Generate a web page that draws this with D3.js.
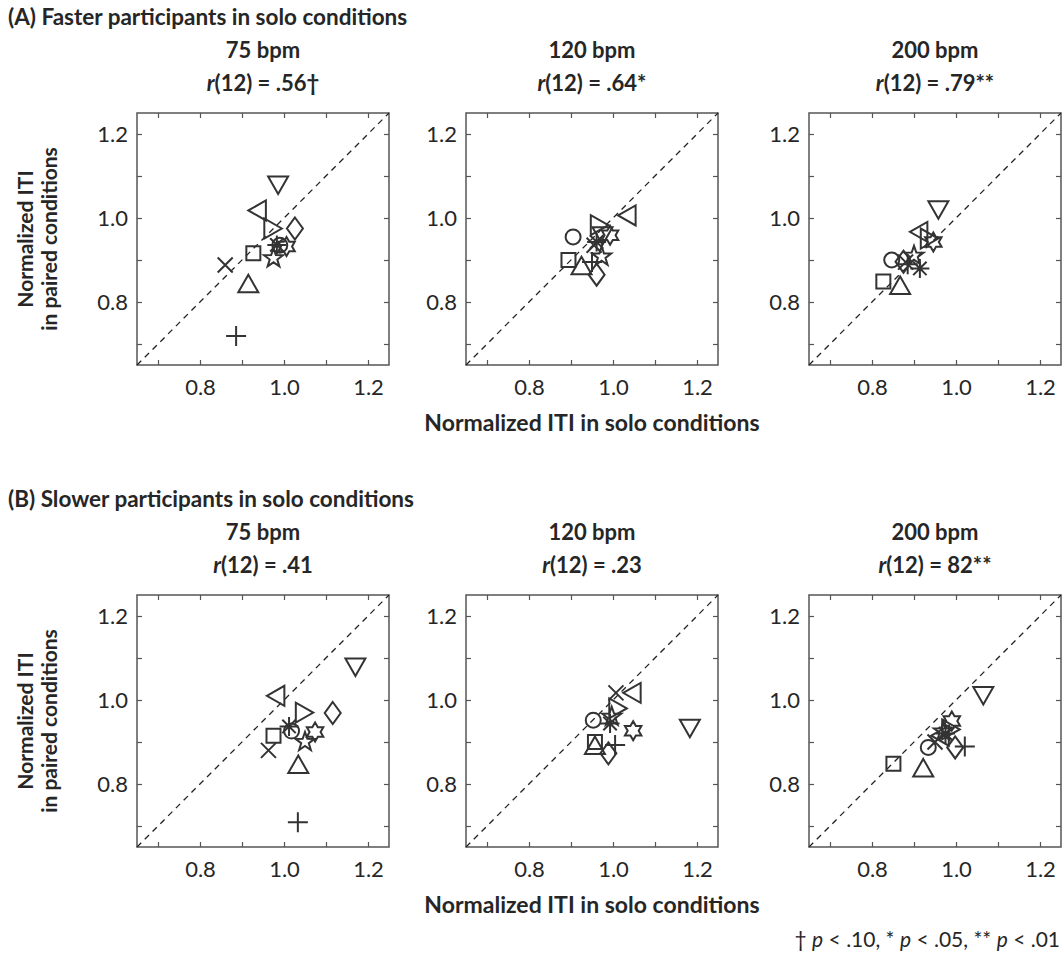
<!DOCTYPE html>
<html>
<head>
<meta charset="utf-8">
<script src="https://cdn.jsdelivr.net/npm/d3@7"></script>
<style>
  body { margin: 0; background: #fff; }
  text { font-family: Lato, "Open Sans", sans-serif; fill: #262626; }
</style>
</head>
<body>
<script>
// marker symbols, one per participant
const markers = ['o', '+', '*', 'x', 's', 'd', '^', 'v', '>', '<', 'p', 'h'];

// x = normalized ITI solo, y = normalized ITI paired
const fastSolo75  = [0.990, 0.886, 0.983, 0.860, 0.927, 1.026, 0.915, 0.986, 0.971, 0.939, 0.975, 1.006];
const fastPair75  = [0.935, 0.719, 0.936, 0.888, 0.916, 0.975, 0.841, 1.081, 0.975, 1.018, 0.904, 0.932];
const fastSolo120 = [0.905, 0.950, 0.961, 0.955, 0.894, 0.961, 0.925, 0.975, 0.965, 1.036, 0.973, 0.993];
const fastPair120 = [0.955, 0.895, 0.943, 0.935, 0.900, 0.865, 0.884, 0.960, 0.983, 1.006, 0.908, 0.959];
const fastSolo200 = [0.847, 0.885, 0.914, 0.880, 0.827, 0.875, 0.867, 0.958, 0.934, 0.914, 0.900, 0.946];
const fastPair200 = [0.900, 0.890, 0.880, 0.895, 0.849, 0.896, 0.837, 1.022, 0.951, 0.967, 0.910, 0.943];

const slowSolo75  = [1.018, 1.033, 1.012, 0.963, 0.975, 1.116, 1.034, 1.170, 1.046, 0.983, 1.050, 1.074];
const slowPair75  = [0.926, 0.709, 0.937, 0.880, 0.915, 0.969, 0.844, 1.081, 0.970, 1.010, 0.900, 0.924];
const slowSolo120 = [0.953, 1.005, 0.993, 1.007, 0.957, 0.989, 0.957, 1.183, 1.009, 1.048, 0.997, 1.048];
const slowPair120 = [0.952, 0.893, 0.944, 1.017, 0.900, 0.873, 0.889, 0.935, 0.980, 1.017, 0.960, 0.927];
const slowSolo200 = [0.934, 1.021, 0.975, 0.950, 0.851, 0.998, 0.922, 1.065, 0.985, 0.965, 0.970, 0.990];
const slowPair200 = [0.887, 0.889, 0.920, 0.900, 0.848, 0.887, 0.836, 1.013, 0.930, 0.915, 0.925, 0.950];

const tempos = ['75 bpm', '120 bpm', '200 bpm'];
const rFast = ['.56†', '.64*', '.79**'];
const rSlow = ['.41', '.23', '82**'];
const rowTitles = ['(A) Faster participants in solo conditions', '(B) Slower participants in solo conditions'];

const tickValues = [0.7, 0.8, 0.9, 1.0, 1.1, 1.2];
const labelValues = [0.8, 1.0, 1.2];

const rows = [
  { title: rowTitles[0], r: rFast, solo: [fastSolo75, fastSolo120, fastSolo200], pair: [fastPair75, fastPair120, fastPair200] },
  { title: rowTitles[1], r: rSlow, solo: [slowSolo75, slowSolo120, slowSolo200], pair: [slowPair75, slowPair120, slowPair200] }
];

const W = 1063, H = 957;
const size = 252;
const panelX = [137, 466, 809];
const rowY = [113, 595];

const svg = d3.select('body').append('svg')
  .attr('width', W)
  .attr('height', H);

const x = d3.scaleLinear().domain([0.65, 1.25]).range([0, size]);
const y = d3.scaleLinear().domain([0.65, 1.25]).range([size, 0]);

const fmt = d => labelValues.some(v => Math.abs(v - d) < 1e-6) ? d3.format('.1f')(d) : '';

function star(n, ro, ri) {
  const pts = [];
  for (let i = 0; i < 2 * n; i++) {
    const a = -Math.PI / 2 + i * Math.PI / n;
    const r = i % 2 === 0 ? ro : ri;
    pts.push([r * Math.cos(a), r * Math.sin(a)]);
  }
  return 'M' + pts.map(p => p.join(',')).join('L') + 'Z';
}

function markerPath(m) {
  switch (m) {
    case 'o': return 'M7.5,0A7.5,7.5 0 1,1 -7.5,0A7.5,7.5 0 1,1 7.5,0Z';
    case 's': return 'M-7,-7H7V7H-7Z';
    case '^': return 'M0,-10L10,7.5L-10,7.5Z';
    case 'v': return 'M0,10L10,-7.5L-10,-7.5Z';
    case '>': return 'M10,0L-7.5,-10L-7.5,10Z';
    case '<': return 'M-10,0L7.5,-10L7.5,10Z';
    case 'd': return 'M0,-11L8,0L0,11L-8,0Z';
    case '+': return 'M-10,0H10M0,-10V10';
    case 'x': return 'M-7.5,-7.5L7.5,7.5M-7.5,7.5L7.5,-7.5';
    case '*': return 'M-9.5,0H9.5M0,-9.5V9.5M-6.7,-6.7L6.7,6.7M-6.7,6.7L6.7,-6.7';
    case 'p': return star(5, 10, 4);
    case 'h': return star(6, 9.5, 5.5);
  }
}

rows.forEach((row, ri) => {
  const top = rowY[ri];

  svg.append('text')
    .attr('x', 8)
    .attr('y', top - 88)
    .style('font-size', '22.5px')
    .style('font-weight', 'bold')
    .text(row.title);

  tempos.forEach((tempo, pi) => {
    const g = svg.append('g')
      .attr('transform', `translate(${panelX[pi]}, ${top})`);

    // titles
    g.append('text')
      .attr('x', size / 2)
      .attr('y', -55)
      .attr('text-anchor', 'middle')
      .style('font-size', '22px')
      .style('font-weight', 'bold')
      .text(tempo);

    const rt = g.append('text')
      .attr('x', size / 2)
      .attr('y', -22)
      .attr('text-anchor', 'middle')
      .style('font-size', '22px')
      .style('font-weight', 'bold');
    rt.append('tspan').style('font-style', 'italic').text('r');
    rt.append('tspan').text('(12) = ' + row.r[pi]);

    // axes, ticks inside
    const axes = [
      { ax: d3.axisBottom(x).tickValues(tickValues).tickSize(-5).tickPadding(14).tickFormat(fmt), t: `translate(0,${size})` },
      { ax: d3.axisLeft(y).tickValues(tickValues).tickSize(-5).tickPadding(9).tickFormat(fmt), t: 'translate(0,0)' },
      { ax: d3.axisTop(x).tickValues(tickValues).tickSize(-5).tickFormat(''), t: 'translate(0,0)' },
      { ax: d3.axisRight(y).tickValues(tickValues).tickSize(-5).tickFormat(''), t: `translate(${size},0)` }
    ];
    axes.forEach(a => {
      const ag = g.append('g').attr('transform', a.t).call(a.ax);
      ag.select('.domain').remove();
      ag.selectAll('line').attr('stroke', '#555').attr('stroke-width', 1.2);
      ag.selectAll('text')
        .style('font-family', 'Lato, sans-serif')
        .style('font-size', '22px')
        .attr('fill', '#262626');
    });

    g.append('rect')
      .attr('width', size)
      .attr('height', size)
      .attr('fill', 'none')
      .attr('stroke', '#555')
      .attr('stroke-width', 1.5);

    // identity line
    g.append('line')
      .attr('x1', x(0.65)).attr('y1', y(0.65))
      .attr('x2', x(1.25)).attr('y2', y(1.25))
      .attr('stroke', '#222')
      .attr('stroke-width', 1.3)
      .attr('stroke-dasharray', '6,5');

    const pts = markers.map((m, i) => ({ m, sx: row.solo[pi][i], py: row.pair[pi][i] }));
    g.selectAll('path.marker')
      .data(pts)
      .enter()
      .append('path')
      .attr('class', 'marker')
      .attr('transform', d => `translate(${x(d.sx)},${y(d.py)})`)
      .attr('d', d => markerPath(d.m))
      .attr('fill', 'none')
      .attr('stroke', '#333')
      .attr('stroke-width', 2)
      .attr('stroke-linejoin', 'miter');
  });

  // axis labels
  svg.append('text')
    .attr('x', panelX[1] + size / 2)
    .attr('y', top + size + 66)
    .attr('text-anchor', 'middle')
    .style('font-size', '23px')
    .style('font-weight', 'bold')
    .text('Normalized ITI in solo conditions');

  const cy = top + size / 2;
  svg.append('text')
    .attr('transform', `translate(33,${cy}) rotate(-90)`)
    .attr('text-anchor', 'middle')
    .style('font-size', '21px')
    .style('font-weight', 'bold')
    .text('Normalized ITI');
  svg.append('text')
    .attr('transform', `translate(57,${cy}) rotate(-90)`)
    .attr('text-anchor', 'middle')
    .style('font-size', '21px')
    .style('font-weight', 'bold')
    .text('in paired conditions');
});

// significance footnote
const foot = svg.append('text')
  .attr('x', 1060)
  .attr('y', 947)
  .attr('text-anchor', 'end')
  .style('font-size', '21px');
foot.append('tspan').text('† ');
foot.append('tspan').style('font-style', 'italic').text('p');
foot.append('tspan').text(' < .10, * ');
foot.append('tspan').style('font-style', 'italic').text('p');
foot.append('tspan').text(' < .05, ** ');
foot.append('tspan').style('font-style', 'italic').text('p');
foot.append('tspan').text(' < .01');
</script>
</body>
</html>
